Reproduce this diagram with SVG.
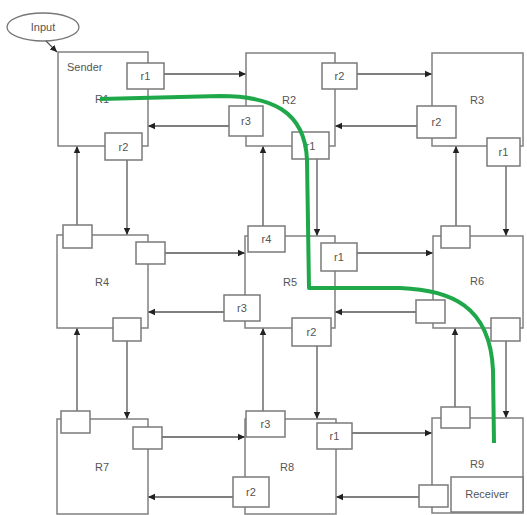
<svg xmlns="http://www.w3.org/2000/svg" width="527" height="515" viewBox="0 0 527 515">
<defs>
<marker id="ah" markerWidth="8" markerHeight="8" refX="7" refY="4" orient="auto" markerUnits="userSpaceOnUse">
<path d="M0,0.8 L7,4 L0,7.2 Z" fill="#222"/>
</marker>
<style>
.rt{fill:#fff;stroke:#808080;stroke-width:1.5}
.pt{fill:#fff;stroke:#7a7a7a;stroke-width:1.5}
.ln{fill:none;stroke:#555;stroke-width:1.3;marker-end:url(#ah)}
text{font-family:"Liberation Sans",Arial,sans-serif;font-size:11px;fill:#555}
.c{text-anchor:middle;dominant-baseline:central}
</style>
</defs>
<rect width="527" height="515" fill="#fff"/>
<g id="input">
<ellipse cx="43" cy="27" rx="36" ry="14" fill="#fff" stroke="#777" stroke-width="1.3"/>
<text class="c" x="43" y="27">Input</text>
</g>
<g id="connectors">
<line class="ln" x1="46" y1="41" x2="57" y2="52"/>
<line class="ln" x1="164" y1="74" x2="246" y2="74"/>
<line class="ln" x1="229" y1="126" x2="148" y2="126"/>
<line class="ln" x1="357" y1="74" x2="432" y2="74"/>
<line class="ln" x1="417" y1="126" x2="335" y2="126"/>
<line class="ln" x1="77" y1="225" x2="77" y2="146"/>
<line class="ln" x1="127" y1="160" x2="127" y2="235"/>
<line class="ln" x1="263" y1="226" x2="263" y2="146"/>
<line class="ln" x1="317" y1="159" x2="317" y2="236"/>
<line class="ln" x1="456" y1="226" x2="456" y2="146"/>
<line class="ln" x1="506" y1="166" x2="506" y2="236"/>
<line class="ln" x1="165" y1="253" x2="245" y2="253"/>
<line class="ln" x1="224" y1="312" x2="148" y2="312"/>
<line class="ln" x1="357" y1="253" x2="433" y2="253"/>
<line class="ln" x1="416" y1="312" x2="335" y2="312"/>
<line class="ln" x1="77" y1="411" x2="77" y2="328"/>
<line class="ln" x1="127" y1="341" x2="127" y2="419"/>
<line class="ln" x1="263" y1="411" x2="263" y2="328"/>
<line class="ln" x1="317" y1="346" x2="317" y2="419"/>
<line class="ln" x1="455" y1="407" x2="455" y2="328"/>
<line class="ln" x1="506" y1="341" x2="506" y2="418"/>
<line class="ln" x1="162" y1="437" x2="245" y2="437"/>
<line class="ln" x1="233" y1="497" x2="148" y2="497"/>
<line class="ln" x1="352" y1="433" x2="432" y2="433"/>
<line class="ln" x1="419" y1="497" x2="336" y2="497"/>
</g>
<g id="R1">
<rect class="rt" x="58" y="52" width="90" height="94"/>
<text x="67" y="71">Sender</text>
<text x="95" y="103">R1</text>
<rect class="pt" x="127" y="63" width="37" height="26"/>
<text class="c" x="145.5" y="76">r1</text>
<rect class="pt" x="105" y="133" width="37" height="27"/>
<text class="c" x="123.5" y="146.5">r2</text>
</g>
<g id="R2">
<rect class="rt" x="246" y="53" width="89" height="93"/>
<text class="c" x="289" y="100">R2</text>
<rect class="pt" x="322" y="63" width="35" height="26"/>
<text class="c" x="339.5" y="76">r2</text>
<rect class="pt" x="229" y="106" width="34" height="30"/>
<text class="c" x="246" y="121">r3</text>
<rect class="pt" x="292" y="132" width="37" height="27"/>
<text class="c" x="310.5" y="145.5">r1</text>
</g>
<g id="R3">
<rect class="rt" x="432" y="53" width="91" height="93"/>
<text class="c" x="477" y="100">R3</text>
<rect class="pt" x="417" y="106" width="39" height="32"/>
<text class="c" x="436.5" y="122">r2</text>
<rect class="pt" x="487" y="138" width="33" height="28"/>
<text class="c" x="503.5" y="152">r1</text>
</g>
<g id="R4">
<rect class="rt" x="57" y="235" width="91" height="93"/>
<text class="c" x="102" y="282">R4</text>
<rect class="pt" x="63" y="225" width="29" height="23"/>
<rect class="pt" x="136" y="242" width="29" height="22"/>
<rect class="pt" x="113" y="318" width="28" height="23"/>
</g>
<g id="R5">
<rect class="rt" x="245" y="236" width="90" height="92"/>
<text class="c" x="290" y="282">R5</text>
<rect class="pt" x="248" y="226" width="37" height="26"/>
<text class="c" x="266.5" y="239">r4</text>
<rect class="pt" x="321" y="243" width="36" height="28"/>
<text class="c" x="339" y="257">r1</text>
<rect class="pt" x="224" y="295" width="36" height="26"/>
<text class="c" x="242" y="308">r3</text>
<rect class="pt" x="292" y="318" width="39" height="28"/>
<text class="c" x="311.5" y="332">r2</text>
</g>
<g id="R6">
<rect class="rt" x="433" y="236" width="90" height="92"/>
<text class="c" x="477" y="281">R6</text>
<rect class="pt" x="441" y="226" width="29" height="22"/>
<rect class="pt" x="416" y="300" width="29" height="23"/>
<rect class="pt" x="491" y="318" width="29" height="23"/>
</g>
<g id="R7">
<rect class="rt" x="57" y="419" width="91" height="95"/>
<text class="c" x="102" y="467">R7</text>
<rect class="pt" x="61" y="411" width="29" height="22"/>
<rect class="pt" x="133" y="427" width="29" height="22"/>
</g>
<g id="R8">
<rect class="rt" x="245" y="419" width="91" height="95"/>
<text class="c" x="287" y="467">R8</text>
<rect class="pt" x="246" y="411" width="39" height="26"/>
<text class="c" x="265.5" y="424">r3</text>
<rect class="pt" x="317" y="423" width="35" height="26"/>
<text class="c" x="334.5" y="436">r1</text>
<rect class="pt" x="233" y="477" width="36" height="30"/>
<text class="c" x="251" y="492">r2</text>
</g>
<g id="R9">
<rect class="rt" x="432" y="418" width="91" height="95"/>
<text class="c" x="477" y="464">R9</text>
<rect class="pt" x="441" y="407" width="29" height="21"/>
<rect class="pt" x="419" y="485" width="29" height="22"/>
<rect class="pt" x="451" y="477" width="72" height="35"/>
<text class="c" x="487" y="494">Receiver</text>
</g>
<g id="route">
<path d="M100,99 L220,96 C270,96 305,110 307,160 L309,288 L400,288 C450,290 490,305 493,370 L494,443" fill="none" stroke="#1fa84a" stroke-width="4" stroke-linejoin="round"/>
</g>
</svg>
